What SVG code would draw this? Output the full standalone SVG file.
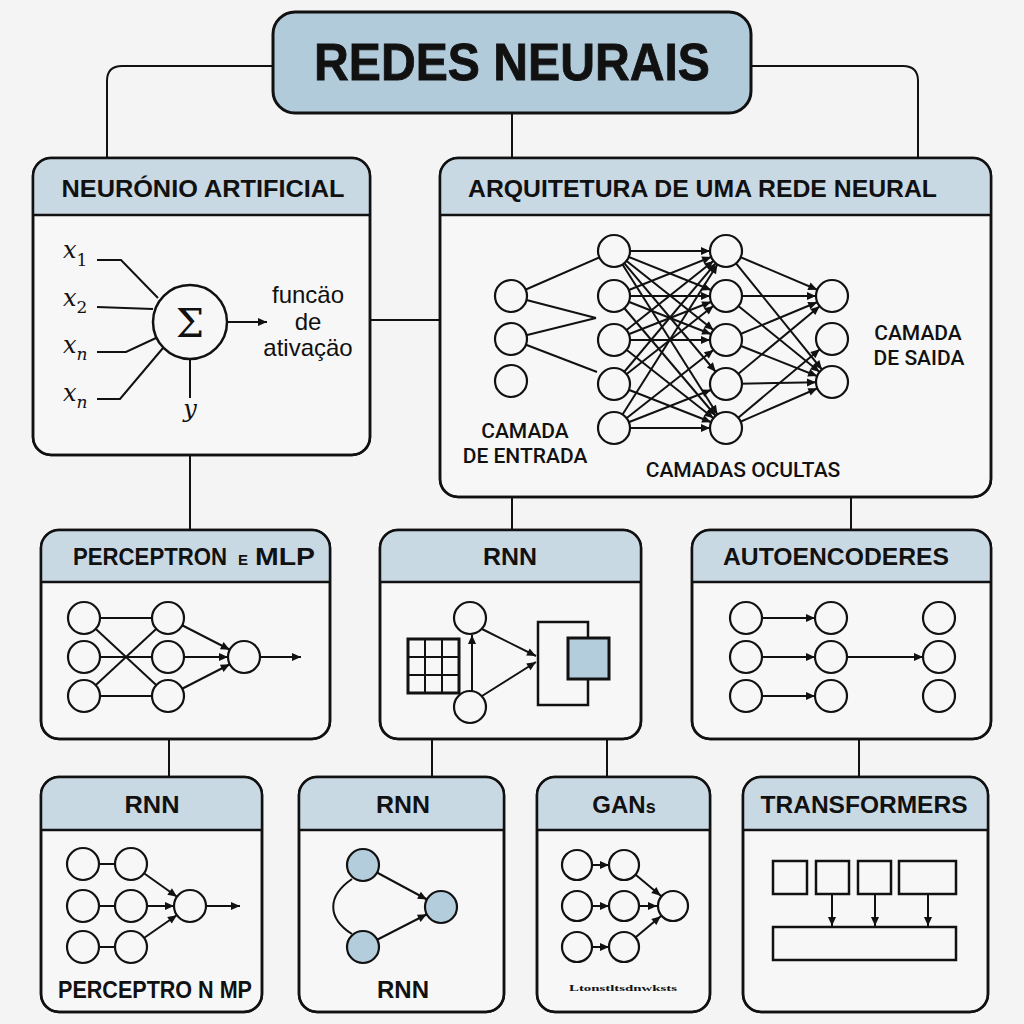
<svg xmlns="http://www.w3.org/2000/svg" width="1024" height="1024" viewBox="0 0 1024 1024">
<defs>
<marker id="ah" markerUnits="userSpaceOnUse" markerWidth="10" markerHeight="8" refX="25" refY="4" orient="auto" overflow="visible"><path d="M0,0 L9,4 L0,8 Z" fill="#111"/></marker>
<marker id="arr" markerUnits="userSpaceOnUse" markerWidth="10" markerHeight="8" refX="9" refY="4" orient="auto" overflow="visible"><path d="M0,0 L9,4 L0,8 Z" fill="#111"/></marker>
<style>
.box{fill:#f7f7f7;stroke:#111;stroke-width:2.5}
.hdr{fill:#c9d9e4;stroke:none}
.div{stroke:#111;stroke-width:2.5}
.ht{font-family:"Liberation Sans",Arial,sans-serif;font-weight:bold;font-size:24px;fill:#111;text-anchor:middle}
.lbl{font-family:Roboto,"Liberation Sans",Arial,sans-serif;font-weight:500;font-size:21px;fill:#111;text-anchor:middle}
.con{fill:none;stroke:#111;stroke-width:2}
.ln{stroke:#111;stroke-width:2;fill:none}
.la{stroke:#111;stroke-width:2;fill:none;marker-end:url(#ah)}
.lp{stroke:#111;stroke-width:2;fill:none;marker-end:url(#arr)}
.nd{fill:#f7f7f7;stroke:#111;stroke-width:2.2}
.nb{fill:#b3cddd;stroke:#111;stroke-width:2.2}
.xl{font-family:"DejaVu Serif","Liberation Serif",serif;font-style:italic;font-size:24px;fill:#111}
.sub{font-size:17px}
</style>
</defs>
<rect width="1024" height="1024" fill="#f4f4f4"/>

<g id="connectors">
<path class="con" d="M273,66 H122 Q107,66 107,81 V158"/>
<path class="con" d="M751,66 H903 Q918,66 918,81 V158"/>
<path class="con" d="M512,113 V158"/>
<path class="con" d="M370,320 H440"/>
<path class="con" d="M190,455 V530"/>
<path class="con" d="M512,497 V530"/>
<path class="con" d="M851,497 V530"/>
<path class="con" d="M169,739 V777"/>
<path class="con" d="M432,739 V777"/>
<path class="con" d="M607,739 V777"/>
<path class="con" d="M859,739 V777"/>
</g>

<g id="title">
<rect x="273" y="12" width="478" height="101" rx="22" fill="#b2cbdb" stroke="#111" stroke-width="3"/>
<text x="512" y="80" font-family="Liberation Sans,Arial,sans-serif" font-weight="bold" font-size="52" text-anchor="middle" fill="#111" stroke="#111" stroke-width="0.8" textLength="396" lengthAdjust="spacingAndGlyphs">REDES NEURAIS</text>
</g>

<g id="neuronio">
<rect class="box" x="33" y="158" width="337" height="297" rx="18"/>
<path class="hdr" d="M34,215 V176 A17,17 0 0 1 51,159 H352 A17,17 0 0 1 369,176 V215 Z"/>
<line class="div" x1="33" y1="215" x2="370" y2="215"/>
<rect x="33" y="158" width="337" height="297" rx="18" fill="none" stroke="#111" stroke-width="2.5"/>
<text class="ht" x="203" y="197" textLength="283" lengthAdjust="spacingAndGlyphs">NEURÓNIO ARTIFICIAL</text>
<text class="xl" x="63" y="258">x<tspan class="sub" font-style="normal" dy="8">1</tspan></text>
<text class="xl" x="63" y="306">x<tspan class="sub" font-style="normal" dy="7">2</tspan></text>
<text class="xl" x="63" y="353">x<tspan class="sub" dy="7">n</tspan></text>
<text class="xl" x="63" y="401">x<tspan class="sub" dy="7">n</tspan></text>
<path class="ln" d="M97,260 H121 L158,298"/>
<path class="ln" d="M97,307 L153,309"/>
<path class="ln" d="M97,352 H126 L156,338"/>
<path class="ln" d="M97,399 H120 L163,348"/>
<circle cx="190" cy="322" r="37" fill="#f7f7f7" stroke="#111" stroke-width="2.5"/>
<text x="190" y="337" font-family="DejaVu Serif,Liberation Serif,serif" font-size="40" text-anchor="middle" fill="#111">Σ</text>
<line class="lp" x1="227" y1="322" x2="267" y2="322"/>
<line class="ln" x1="190" y1="359" x2="190" y2="398"/>
<text class="xl" x="190" y="417" text-anchor="middle">y</text>
<text x="308" y="303" font-family="Liberation Sans,Arial,sans-serif" font-size="24" text-anchor="middle" fill="#111">funcäo</text>
<text x="308" y="330" font-family="Liberation Sans,Arial,sans-serif" font-size="24" text-anchor="middle" fill="#111">de</text>
<text x="308" y="356" font-family="Liberation Sans,Arial,sans-serif" font-size="24" text-anchor="middle" fill="#111">ativaçäo</text>
</g>

<g id="arquitetura">
<rect class="box" x="440" y="158" width="551" height="339" rx="18"/>
<path class="hdr" d="M441,215 V176 A17,17 0 0 1 458,159 H973 A17,17 0 0 1 990,176 V215 Z"/>
<line class="div" x1="440" y1="215" x2="991" y2="215"/>
<rect x="440" y="158" width="551" height="339" rx="18" fill="none" stroke="#111" stroke-width="2.5"/>
<text class="ht" x="468" y="197" style="text-anchor:start" textLength="469" lengthAdjust="spacingAndGlyphs">ARQUITETURA DE UMA REDE NEURAL</text>
<g>
<line class="ln" x1="511" y1="296" x2="614" y2="251"/>
<line class="ln" x1="511" y1="296" x2="596" y2="318"/>
<line class="ln" x1="511" y1="339" x2="596" y2="318"/>
<line class="ln" x1="511" y1="339" x2="597" y2="372"/>
<line class="la" x1="614" y1="251" x2="726" y2="251"/>
<line class="la" x1="614" y1="251" x2="726" y2="296"/>
<line class="la" x1="614" y1="251" x2="726" y2="340"/>
<line class="la" x1="614" y1="251" x2="726" y2="384"/>
<line class="la" x1="614" y1="251" x2="726" y2="428"/>
<line class="la" x1="614" y1="296" x2="726" y2="251"/>
<line class="la" x1="614" y1="296" x2="726" y2="296"/>
<line class="la" x1="614" y1="296" x2="726" y2="340"/>
<line class="la" x1="614" y1="296" x2="726" y2="428"/>
<line class="la" x1="614" y1="340" x2="726" y2="251"/>
<line class="la" x1="614" y1="340" x2="726" y2="296"/>
<line class="la" x1="614" y1="340" x2="726" y2="340"/>
<line class="la" x1="614" y1="340" x2="726" y2="428"/>
<line class="la" x1="614" y1="384" x2="726" y2="251"/>
<line class="la" x1="614" y1="384" x2="726" y2="296"/>
<line class="la" x1="614" y1="384" x2="726" y2="428"/>
<line class="la" x1="614" y1="428" x2="726" y2="251"/>
<line class="la" x1="614" y1="428" x2="726" y2="340"/>
<line class="la" x1="614" y1="428" x2="726" y2="384"/>
<line class="la" x1="614" y1="428" x2="726" y2="428"/>
<line class="la" x1="726" y1="251" x2="832" y2="296"/>
<line class="la" x1="726" y1="251" x2="832" y2="382"/>
<line class="la" x1="726" y1="296" x2="832" y2="296"/>
<line class="la" x1="726" y1="296" x2="832" y2="382"/>
<line class="la" x1="726" y1="340" x2="832" y2="296"/>
<line class="la" x1="726" y1="340" x2="832" y2="382"/>
<line class="la" x1="726" y1="384" x2="832" y2="296"/>
<line class="la" x1="726" y1="384" x2="832" y2="382"/>
<line class="la" x1="726" y1="428" x2="832" y2="339"/>
<line class="la" x1="726" y1="428" x2="832" y2="382"/>
<circle class="nd" cx="511" cy="296" r="16"/>
<circle class="nd" cx="511" cy="339" r="16"/>
<circle class="nd" cx="511" cy="381" r="16"/>
<circle class="nd" cx="614" cy="251" r="16"/>
<circle class="nd" cx="614" cy="296" r="16"/>
<circle class="nd" cx="614" cy="340" r="16"/>
<circle class="nd" cx="614" cy="384" r="16"/>
<circle class="nd" cx="614" cy="428" r="16"/>
<circle class="nd" cx="726" cy="251" r="16"/>
<circle class="nd" cx="726" cy="296" r="16"/>
<circle class="nd" cx="726" cy="340" r="16"/>
<circle class="nd" cx="726" cy="384" r="16"/>
<circle class="nd" cx="726" cy="428" r="16"/>
<circle class="nd" cx="832" cy="296" r="16"/>
<circle class="nd" cx="832" cy="339" r="16"/>
<circle class="nd" cx="832" cy="382" r="16"/>
</g>
<text class="lbl" x="525" y="438">CAMADA</text>
<text class="lbl" x="525" y="463">DE ENTRADA</text>
<text class="lbl" x="743" y="477">CAMADAS OCULTAS</text>
<text class="lbl" x="918" y="340">CAMADA</text>
<text class="lbl" x="919" y="365">DE SAIDA</text>
</g>

<g id="perceptron-mlp">
<rect class="box" x="41" y="530" width="289" height="209" rx="18"/>
<path class="hdr" d="M42,582 V548 A17,17 0 0 1 59,531 H312 A17,17 0 0 1 329,548 V582 Z"/>
<line class="div" x1="41" y1="582" x2="330" y2="582"/>
<rect x="41" y="530" width="289" height="209" rx="18" fill="none" stroke="#111" stroke-width="2.5"/>
<text class="ht" x="73" y="565" style="text-anchor:start" textLength="154" lengthAdjust="spacingAndGlyphs">PERCEPTRON</text>
<text class="ht" x="238" y="565" style="text-anchor:start;font-size:15px">E</text>
<text class="ht" x="255" y="565" style="text-anchor:start" textLength="60" lengthAdjust="spacingAndGlyphs">MLP</text>
<line class="ln" x1="84" y1="618" x2="168" y2="618"/>
<line class="ln" x1="84" y1="618" x2="168" y2="696"/>
<line class="ln" x1="84" y1="657" x2="168" y2="657"/>
<line class="ln" x1="84" y1="696" x2="168" y2="618"/>
<line class="ln" x1="84" y1="696" x2="168" y2="696"/>
<line class="la" x1="168" y1="618" x2="244" y2="657"/>
<line class="la" x1="168" y1="657" x2="244" y2="657"/>
<line class="la" x1="168" y1="696" x2="244" y2="657"/>
<line class="lp" x1="260" y1="657" x2="301" y2="657"/>
<circle class="nd" cx="84" cy="618" r="16"/>
<circle class="nd" cx="84" cy="657" r="16"/>
<circle class="nd" cx="84" cy="696" r="16"/>
<circle class="nd" cx="168" cy="618" r="16"/>
<circle class="nd" cx="168" cy="657" r="16"/>
<circle class="nd" cx="168" cy="696" r="16"/>
<circle class="nd" cx="244" cy="657" r="16"/>
</g>

<g id="rnn-mid">
<rect class="box" x="380" y="530" width="261" height="209" rx="18"/>
<path class="hdr" d="M381,582 V548 A17,17 0 0 1 398,531 H623 A17,17 0 0 1 640,548 V582 Z"/>
<line class="div" x1="380" y1="582" x2="641" y2="582"/>
<rect x="380" y="530" width="261" height="209" rx="18" fill="none" stroke="#111" stroke-width="2.5"/>
<text class="ht" x="510" y="565" textLength="54" lengthAdjust="spacingAndGlyphs">RNN</text>
<rect x="408" y="639" width="51" height="54" fill="none" stroke="#111" stroke-width="3"/>
<path class="ln" stroke-width="2.5" d="M425,639 V693 M442,639 V693 M408,657 H459 M408,675 H459"/>
<line class="lp" x1="472" y1="691" x2="472" y2="635"/>
<line class="lp" x1="482" y1="629" x2="536" y2="656"/>
<line class="lp" x1="482" y1="696" x2="536" y2="662"/>
<circle class="nd" cx="470" cy="618" r="16"/>
<circle class="nd" cx="470" cy="707" r="16"/>
<rect x="538" y="622" width="50" height="83" fill="none" stroke="#111" stroke-width="2.5"/>
<rect x="568" y="638" width="41" height="41" fill="#b3cddd" stroke="#111" stroke-width="3"/>
</g>

<g id="autoencoderes">
<rect class="box" x="692" y="530" width="299" height="209" rx="18"/>
<path class="hdr" d="M693,582 V548 A17,17 0 0 1 710,531 H973 A17,17 0 0 1 990,548 V582 Z"/>
<line class="div" x1="692" y1="582" x2="991" y2="582"/>
<rect x="692" y="530" width="299" height="209" rx="18" fill="none" stroke="#111" stroke-width="2.5"/>
<text class="ht" x="836" y="565" textLength="226" lengthAdjust="spacingAndGlyphs">AUTOENCODERES</text>
<line class="la" x1="746" y1="618" x2="831" y2="618"/>
<line class="la" x1="746" y1="657" x2="831" y2="657"/>
<line class="la" x1="746" y1="696" x2="831" y2="696"/>
<line class="la" x1="831" y1="657" x2="939" y2="657"/>
<circle class="nd" cx="746" cy="618" r="16"/>
<circle class="nd" cx="746" cy="657" r="16"/>
<circle class="nd" cx="746" cy="696" r="16"/>
<circle class="nd" cx="831" cy="618" r="16"/>
<circle class="nd" cx="831" cy="657" r="16"/>
<circle class="nd" cx="831" cy="696" r="16"/>
<circle class="nd" cx="939" cy="618" r="16"/>
<circle class="nd" cx="939" cy="657" r="16"/>
<circle class="nd" cx="939" cy="696" r="16"/>
</g>

<g id="rnn-perceptron">
<rect class="box" x="41" y="777" width="221" height="235" rx="18"/>
<path class="hdr" d="M42,830 V795 A17,17 0 0 1 59,778 H244 A17,17 0 0 1 261,795 V830 Z"/>
<line class="div" x1="41" y1="830" x2="262" y2="830"/>
<rect x="41" y="777" width="221" height="235" rx="18" fill="none" stroke="#111" stroke-width="2.5"/>
<text class="ht" x="152" y="813" textLength="55" lengthAdjust="spacingAndGlyphs">RNN</text>
<line class="ln" x1="83" y1="864" x2="131" y2="864"/>
<line class="ln" x1="83" y1="906" x2="131" y2="906"/>
<line class="ln" x1="83" y1="947" x2="131" y2="947"/>
<line class="la" x1="131" y1="864" x2="190" y2="906"/>
<line class="la" x1="131" y1="906" x2="190" y2="906"/>
<line class="la" x1="131" y1="947" x2="190" y2="906"/>
<line class="lp" x1="206" y1="906" x2="240" y2="906"/>
<circle class="nd" cx="83" cy="864" r="16"/>
<circle class="nd" cx="83" cy="906" r="16"/>
<circle class="nd" cx="83" cy="947" r="16"/>
<circle class="nd" cx="131" cy="864" r="16"/>
<circle class="nd" cx="131" cy="906" r="16"/>
<circle class="nd" cx="131" cy="947" r="16"/>
<circle class="nd" cx="190" cy="906" r="16"/>
<text class="ht" x="155" y="998" style="font-size:23px" textLength="194" lengthAdjust="spacingAndGlyphs">PERCEPTRO N MP</text>
</g>

<g id="rnn-loop">
<rect class="box" x="299" y="777" width="205" height="235" rx="18"/>
<path class="hdr" d="M300,830 V795 A17,17 0 0 1 317,778 H486 A17,17 0 0 1 503,795 V830 Z"/>
<line class="div" x1="299" y1="830" x2="504" y2="830"/>
<rect x="299" y="777" width="205" height="235" rx="18" fill="none" stroke="#111" stroke-width="2.5"/>
<text class="ht" x="403" y="813" textLength="54" lengthAdjust="spacingAndGlyphs">RNN</text>
<path class="ln" d="M352,879 C327,896 327,918 352,934"/>
<line class="la" x1="363" y1="865" x2="441" y2="907"/>
<line class="la" x1="363" y1="947" x2="441" y2="907"/>
<circle class="nb" cx="363" cy="865" r="16"/>
<circle class="nb" cx="363" cy="947" r="16"/>
<circle class="nb" cx="441" cy="907" r="16"/>
<text class="ht" x="403" y="998" textLength="52" lengthAdjust="spacingAndGlyphs">RNN</text>
</g>

<g id="gans">
<rect class="box" x="537" y="777" width="173" height="235" rx="18"/>
<path class="hdr" d="M538,830 V795 A17,17 0 0 1 555,778 H692 A17,17 0 0 1 709,795 V830 Z"/>
<line class="div" x1="537" y1="830" x2="710" y2="830"/>
<rect x="537" y="777" width="173" height="235" rx="18" fill="none" stroke="#111" stroke-width="2.5"/>
<text class="ht" x="624" y="813">GAN<tspan style="font-size:18px">s</tspan></text>
<line class="lp" x1="592" y1="865" x2="609" y2="865"/>
<line class="lp" x1="592" y1="906" x2="609" y2="906"/>
<line class="lp" x1="592" y1="947" x2="609" y2="947"/>
<line class="la" x1="624" y1="865" x2="673" y2="906"/>
<line class="la" x1="624" y1="906" x2="673" y2="906"/>
<line class="la" x1="624" y1="947" x2="673" y2="906"/>
<circle class="nd" cx="577" cy="865" r="15"/>
<circle class="nd" cx="577" cy="906" r="15"/>
<circle class="nd" cx="577" cy="947" r="15"/>
<circle class="nd" cx="624" cy="865" r="15"/>
<circle class="nd" cx="624" cy="906" r="15"/>
<circle class="nd" cx="624" cy="947" r="15"/>
<circle class="nd" cx="673" cy="906" r="15"/>
<text x="623" y="991" font-family="Liberation Serif,serif" font-weight="bold" font-size="9" text-anchor="middle" fill="#111" textLength="108" lengthAdjust="spacingAndGlyphs">Ltonstltsdnwksts</text>
</g>

<g id="transformers">
<rect class="box" x="743" y="777" width="245" height="235" rx="18"/>
<path class="hdr" d="M744,830 V795 A17,17 0 0 1 761,778 H970 A17,17 0 0 1 987,795 V830 Z"/>
<line class="div" x1="743" y1="830" x2="988" y2="830"/>
<rect x="743" y="777" width="245" height="235" rx="18" fill="none" stroke="#111" stroke-width="2.5"/>
<text class="ht" x="864" y="813" textLength="207" lengthAdjust="spacingAndGlyphs">TRANSFORMERS</text>
<rect x="773" y="861" width="34" height="33" fill="none" stroke="#111" stroke-width="2.5"/>
<rect x="816" y="861" width="33" height="33" fill="none" stroke="#111" stroke-width="2.5"/>
<rect x="858" y="861" width="33" height="33" fill="none" stroke="#111" stroke-width="2.5"/>
<rect x="899" y="861" width="57" height="33" fill="none" stroke="#111" stroke-width="2.5"/>
<rect x="773" y="927" width="183" height="33" fill="none" stroke="#111" stroke-width="2.5"/>
<line class="lp" x1="832" y1="894" x2="832" y2="926"/>
<line class="lp" x1="875" y1="894" x2="875" y2="926"/>
<line class="lp" x1="928" y1="894" x2="928" y2="926"/>
</g>
</svg>
